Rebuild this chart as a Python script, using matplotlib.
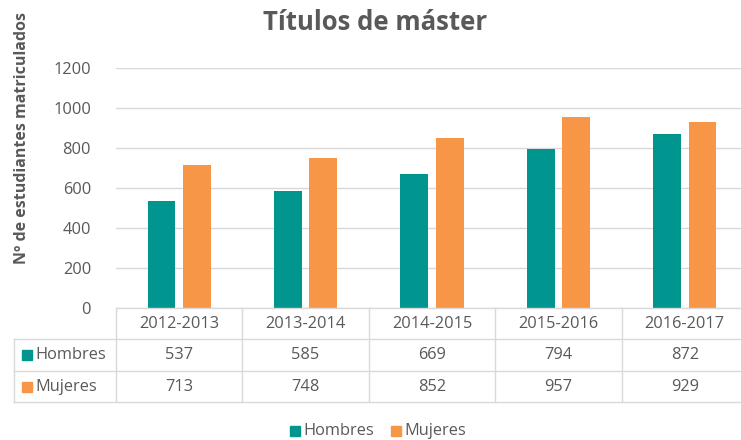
import matplotlib
matplotlib.use("Agg")
import matplotlib.pyplot as plt
from matplotlib.patches import Rectangle
from matplotlib.lines import Line2D

plt.rcParams['font.family'] = ['Open Sans', 'DejaVu Sans']

categories = ["2012-2013", "2013-2014", "2014-2015", "2015-2016", "2016-2017"]
series_names = ["Hombres", "Mujeres"]
hombres = [537, 585, 669, 794, 872]
mujeres = [713, 748, 852, 957, 929]
yticks = [0, 200, 400, 600, 800, 1000, 1200]

teal = "#00958F"
orange = "#F79646"
grey_txt = "#595959"
grid_c = "#D9D9D9"
fs = 11.8

W, H = 741, 440
fig = plt.figure(figsize=(W / 100, H / 100), dpi=100)

def fx(px):
    return px / W

def fy(py):
    return 1 - py / H

left_px, right_px = 116, 748
top_px, base_px = 68, 308
ax = fig.add_axes([fx(left_px), fy(base_px), fx(right_px - left_px), (base_px - top_px) / H])
n = len(categories)
xs = list(range(n))
bw = 0.22
off = 0.14
ax.bar([x - off for x in xs], hombres, width=bw, color=teal, zorder=3)
ax.bar([x + off for x in xs], mujeres, width=bw, color=orange, zorder=3)
ax.set_xlim(-0.5, n - 0.5)
ax.set_ylim(0, 1200)
ax.set_yticks(yticks)
ax.set_yticklabels([str(v) for v in yticks], color=grey_txt, fontsize=fs)
ax.tick_params(axis='y', length=0, pad=18)
ax.set_xticks([])
ax.grid(axis='y', color=grid_c, linewidth=1, zorder=0)
for s in ax.spines.values():
    s.set_visible(False)

# y label
fig.text(fx(22), fy(138), "Nº de estudiantes matriculados", rotation=90,
         ha='center', va='center', fontsize=11.5, fontweight='bold', color=grey_txt)

# title
fig.text(fx(375), fy(23), "Títulos de máster", ha='center', va='center',
         fontsize=18.5, fontweight='bold', color=grey_txt)

# data table
tab_left = 14
row_y = [308, 339, 371, 402]
cat_w = (right_px - left_px) / n
line_kw = dict(color=grid_c, linewidth=1, transform=fig.transFigure)
fig.add_artist(Line2D([fx(left_px), fx(right_px)], [fy(row_y[0])] * 2, **line_kw))
for yy in row_y[1:]:
    fig.add_artist(Line2D([fx(tab_left), fx(right_px)], [fy(yy)] * 2, **line_kw))
fig.add_artist(Line2D([fx(tab_left)] * 2, [fy(row_y[1]), fy(row_y[3])], **line_kw))
for i in range(n + 1):
    xx = left_px + i * cat_w
    fig.add_artist(Line2D([fx(xx)] * 2, [fy(row_y[0]), fy(row_y[3])], **line_kw))

for i, c in enumerate(categories):
    cx = left_px + (i + 0.5) * cat_w
    fig.text(fx(cx), fy((row_y[0] + row_y[1]) / 2), c, ha='center', va='center',
             fontsize=fs, color=grey_txt)
    fig.text(fx(cx), fy((row_y[1] + row_y[2]) / 2), str(hombres[i]), ha='center', va='center',
             fontsize=fs, color=grey_txt)
    fig.text(fx(cx), fy((row_y[2] + row_y[3]) / 2), str(mujeres[i]), ha='center', va='center',
             fontsize=fs, color=grey_txt)

for j, (name, col) in enumerate(zip(series_names, [teal, orange])):
    yc = (row_y[j + 1] + row_y[j + 2]) / 2
    fig.add_artist(Rectangle((fx(22), fy(yc + 5)), fx(10), 10 / H, color=col,
                             transform=fig.transFigure))
    fig.text(fx(35), fy(yc), name, ha='left', va='center', fontsize=fs, color=grey_txt)

# legend
leg_items = [(290, series_names[0], teal), (391, series_names[1], orange)]
for x0, name, col in leg_items:
    fig.add_artist(Rectangle((fx(x0), fy(436)), fx(10), 10 / H, color=col,
                             transform=fig.transFigure))
    fig.text(fx(x0 + 13), fy(431), name, ha='left', va='center', fontsize=fs, color=grey_txt)

fig.savefig("out.png", dpi=100, facecolor='white')
